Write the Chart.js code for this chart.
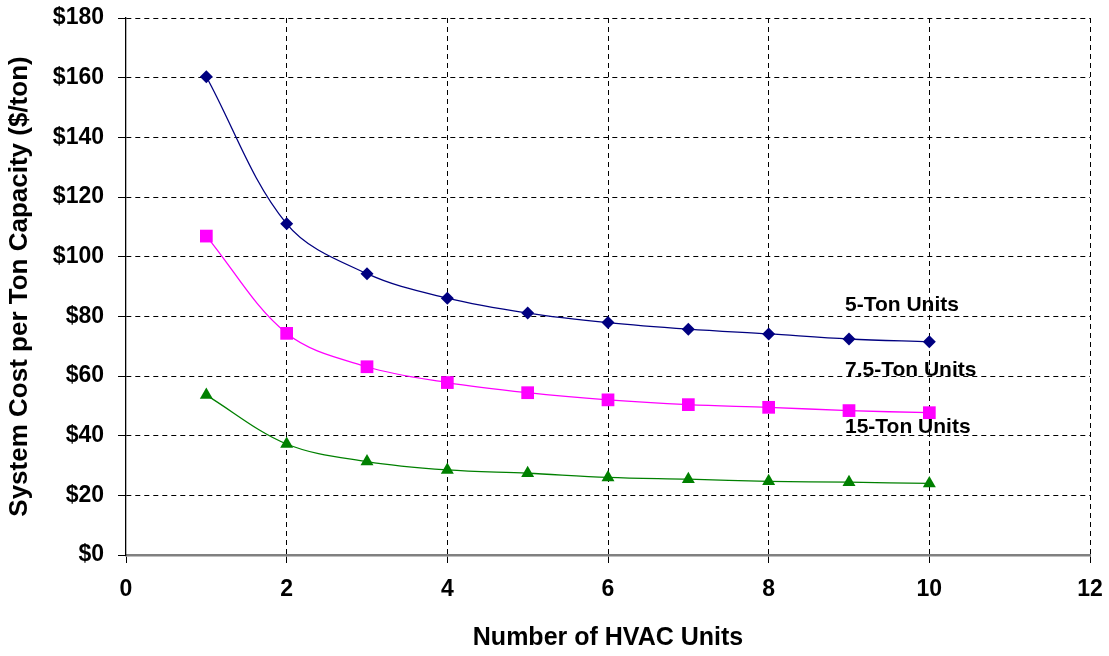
<!DOCTYPE html>
<html lang="en">
<head>
    <meta charset="utf-8" />
    <title>System Cost per Ton Capacity</title>
    <script src="https://cdn.jsdelivr.net/npm/chart.js"></script>
    <style>
        html, body { margin: 0; padding: 0; background: #fff; }
        #wrap { width: 1109px; height: 656px; }
    </style>
</head>
<body>
    <div id="wrap"><canvas id="myChart"></canvas></div>
    <script>
        // Data
        var units = [1, 2, 3, 4, 5, 6, 7, 8, 9, 10];
        var ton5 = [160.3, 111, 94.3, 86.1, 81.1, 77.9, 75.7, 74.1, 72.4, 71.5];
        var ton75 = [106.9, 74.3, 63.1, 57.8, 54.4, 52, 50.4, 49.5, 48.4, 47.7];
        var ton15 = [53.6, 37.2, 31.3, 28.5, 27.4, 26, 25.4, 24.7, 24.4, 24];
        var xTicks = [0, 2, 4, 6, 8, 10, 12];
        var yTicks = [0, 20, 40, 60, 80, 100, 120, 140, 160, 180];

        // Series label text placed inside the plot
        var seriesNames = ['5-Ton Units', '7.5-Ton Units', '15-Ton Units'];
        var nameX = [8.95, 8.95, 8.95];
        var nameY = [83.8, 62, 42.9];

        function toPoints(arr) {
            return units.map(function (u, i) { return { x: u, y: arr[i] }; });
        }

        var FONT = "'Liberation Sans', Arial, sans-serif";

        // plugin kecil untuk menulis nama seri di dalam grafik
        var seriesLabels = {
            id: 'seriesLabels',
            afterDatasetsDraw: function (chart) {
                var ctx = chart.ctx;
                var xs = chart.scales.x, ys = chart.scales.y;
                ctx.save();
                ctx.font = 'bold 21px ' + FONT;
                ctx.fillStyle = '#000';
                ctx.textAlign = 'left';
                ctx.textBaseline = 'middle';
                seriesNames.forEach(function (t, i) {
                    ctx.fillText(t, xs.getPixelForValue(nameX[i]), ys.getPixelForValue(nameY[i]));
                });
                ctx.restore();
            }
        };

        function makeSet(label, arr, color, style, radius) {
            return {
                label: label,
                data: toPoints(arr),
                borderColor: color,
                backgroundColor: color,
                borderWidth: 1.3,
                pointStyle: style,
                pointRadius: radius,
                pointHoverRadius: radius,
                pointBorderWidth: 0,
                tension: 0.35
            };
        }

        // buang padding label supaya area plot ikut layout.padding
        function noPad(s) {
            s.paddingLeft = 0; s.paddingRight = 0; s.paddingTop = 0; s.paddingBottom = 0;
        }

        new Chart(document.getElementById('myChart'), {
            type: 'line',
            data: {
                datasets: [
                    makeSet('5-Ton Units', ton5, '#000080', 'rectRot', 6.5),
                    makeSet('7.5-Ton Units', ton75, '#FF00FF', 'rect', 9),
                    makeSet('15-Ton Units', ton15, '#008000', 'triangle', 7.5)
                ]
            },
            options: {
                responsive: true,
                maintainAspectRatio: false,
                animation: false,
                layout: { padding: { top: 18, right: 19, left: 0, bottom: 0 } },
                plugins: {
                    legend: { display: false },
                    tooltip: { enabled: false }
                },
                scales: {
                    x: {
                        type: 'linear',
                        min: 0,
                        max: 12,
                        afterBuildTicks: function (s) { s.ticks = xTicks.map(function (v) { return { value: v }; }); },
                        afterFit: function (s) { s.height = 101; noPad(s); },
                        grid: {
                            color: function (c) { return c.tick && c.tick.value === 0 ? 'rgba(0,0,0,0)' : '#000'; },
                            lineWidth: 1,
                            tickLength: 8,
                            tickColor: '#000',
                            tickBorderDash: []
                        },
                        border: { display: true, color: '#808080', width: 2.5, dash: [5, 4] },
                        ticks: {
                            color: '#000',
                            padding: 13,
                            maxRotation: 0,
                            font: { family: FONT, size: 23, weight: 'bold' }
                        },
                        title: {
                            display: true,
                            text: 'Number of HVAC Units',
                            color: '#000',
                            padding: { top: 10, bottom: 3 },
                            font: { family: FONT, size: 25, weight: 'bold' }
                        }
                    },
                    y: {
                        min: 0,
                        max: 180,
                        afterBuildTicks: function (s) { s.ticks = yTicks.map(function (v) { return { value: v }; }); },
                        afterFit: function (s) { s.width = 126; noPad(s); },
                        grid: {
                            color: function (c) { return c.tick && c.tick.value === 0 ? 'rgba(0,0,0,0)' : '#000'; },
                            lineWidth: 1,
                            tickLength: 8,
                            tickColor: '#000',
                            tickBorderDash: []
                        },
                        border: { display: true, color: '#000', width: 1.3, dash: [5, 4] },
                        ticks: {
                            color: '#000',
                            padding: 14,
                            font: { family: FONT, size: 23, weight: 'bold' },
                            callback: function (v) { return '$' + v; }
                        },
                        title: {
                            display: true,
                            text: 'System Cost per Ton Capacity ($/ton)',
                            color: '#000',
                            padding: { top: 4, bottom: 4 },
                            font: { family: FONT, size: 26, weight: 'bold' }
                        }
                    }
                }
            },
            plugins: [seriesLabels]
        });
    </script>
</body>
</html>
